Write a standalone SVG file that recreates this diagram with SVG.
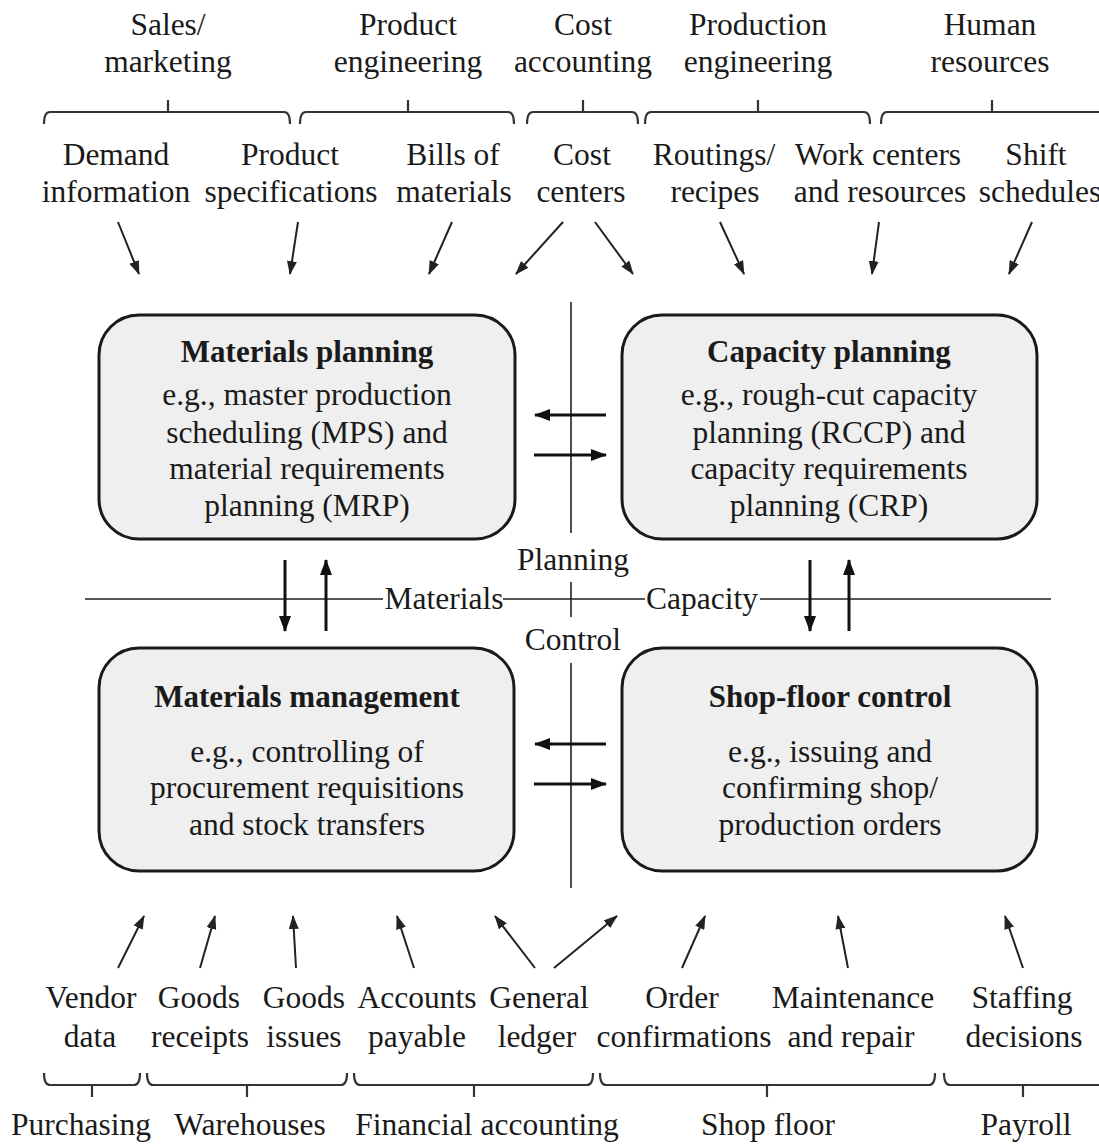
<svg xmlns="http://www.w3.org/2000/svg" width="1099" height="1145" viewBox="0 0 1099 1145">
<style>
text{font-family:"Liberation Serif","Times New Roman",serif;font-size:31.5px;fill:#1a1a1a;text-anchor:middle}
.b{font-weight:bold;font-size:31px}
.box{fill:#efefef;stroke:#1a1a1a;stroke-width:3}
.br{fill:none;stroke:#333;stroke-width:2.2}
.thin{stroke:#222;stroke-width:2;fill:none}
.thick{stroke:#111;stroke-width:3;fill:none}
.ax{stroke:#222;stroke-width:1.6;fill:none}
</style>
<defs>
<marker id="ah" markerUnits="userSpaceOnUse" markerWidth="14" markerHeight="10" refX="13" refY="5" orient="auto"><path d="M0,0 L14,5 L0,10 z" fill="#222"/></marker>
<marker id="ahk" markerUnits="userSpaceOnUse" markerWidth="16" markerHeight="12" refX="15" refY="6" orient="auto"><path d="M0,0 L16,6 L0,12 z" fill="#111"/></marker>
</defs>
<rect width="1099" height="1145" fill="#fff"/>

<g id="top-categories">
<text x="168" y="35">Sales/</text><text x="168" y="72">marketing</text>
<text x="408" y="35">Product</text><text x="408" y="72">engineering</text>
<text x="583" y="35">Cost</text><text x="583" y="72">accounting</text>
<text x="758" y="35">Production</text><text x="758" y="72">engineering</text>
<text x="990" y="35">Human</text><text x="990" y="72">resources</text>
</g>
<g id="top-braces">
<path class="br" d="M44,124 Q44,112 50,112 L284,112 Q290,112 290,124 M168,112 V100"/>
<path class="br" d="M300,124 Q300,112 306,112 L508,112 Q514,112 514,124 M408,112 V100"/>
<path class="br" d="M527,124 Q527,112 533,112 L632,112 Q638,112 638,124 M583,112 V100"/>
<path class="br" d="M645,124 Q645,112 651,112 L864,112 Q870,112 870,124 M758,112 V100"/>
<path class="br" d="M881,124 Q881,112 887,112 L1105,112 M992,112 V100"/>
</g>
<g id="top-items">
<text x="116" y="165">Demand</text><text x="116" y="202">information</text>
<text x="290" y="165">Product</text><text x="291" y="202">specifications</text>
<text x="453" y="165">Bills of</text><text x="454" y="202">materials</text>
<text x="582" y="165">Cost</text><text x="581" y="202">centers</text>
<text x="714" y="165">Routings/</text><text x="715" y="202">recipes</text>
<text x="878" y="165">Work centers</text><text x="880" y="202">and resources</text>
<text x="1036" y="165">Shift</text><text x="1040" y="202">schedules</text>
</g>

<g id="node-materials-planning">
<rect class="box" x="99" y="315" width="416" height="224" rx="40"/>
<text class="b" x="307" y="362">Materials planning</text>
<text x="307" y="405">e.g., master production</text>
<text x="307" y="443">scheduling (MPS) and</text>
<text x="307" y="479">material requirements</text>
<text x="307" y="516">planning (MRP)</text>
</g>
<g id="node-capacity-planning">
<rect class="box" x="622" y="315" width="415" height="224" rx="40"/>
<text class="b" x="829" y="362">Capacity planning</text>
<text x="829" y="405">e.g., rough-cut capacity</text>
<text x="829" y="443">planning (RCCP) and</text>
<text x="829" y="479">capacity requirements</text>
<text x="829" y="516">planning (CRP)</text>
</g>
<g id="node-materials-management">
<rect class="box" x="99" y="648" width="415" height="223" rx="40"/>
<text class="b" x="307" y="707">Materials management</text>
<text x="307" y="762">e.g., controlling of</text>
<text x="307" y="798">procurement requisitions</text>
<text x="307" y="835">and stock transfers</text>
</g>
<g id="node-shop-floor-control">
<rect class="box" x="622" y="648" width="415" height="223" rx="40"/>
<text class="b" x="830" y="707">Shop-floor control</text>
<text x="830" y="762">e.g., issuing and</text>
<text x="830" y="798">confirming shop/</text>
<text x="830" y="835">production orders</text>
</g>

<g id="axes">
<path class="ax" d="M571,302 V533 M571,582 V617 M571,663 V888"/>
<path class="ax" d="M85,599 H383 M503,599 H645 M760,599 H1051"/>
<text x="573" y="570">Planning</text>
<text x="573" y="650">Control</text>
<text x="444" y="609">Materials</text>
<text x="702" y="609">Capacity</text>
</g>

<g id="connectors">
<line class="thin" x1="118" y1="222" x2="139" y2="274" marker-end="url(#ah)"/>
<line class="thin" x1="298" y1="222" x2="290" y2="274" marker-end="url(#ah)"/>
<line class="thin" x1="452" y1="222" x2="429" y2="274" marker-end="url(#ah)"/>
<line class="thin" x1="563" y1="222" x2="516" y2="274" marker-end="url(#ah)"/>
<line class="thin" x1="595" y1="222" x2="633" y2="274" marker-end="url(#ah)"/>
<line class="thin" x1="720" y1="222" x2="744" y2="274" marker-end="url(#ah)"/>
<line class="thin" x1="879" y1="222" x2="872" y2="274" marker-end="url(#ah)"/>
<line class="thin" x1="1032" y1="222" x2="1009" y2="274" marker-end="url(#ah)"/>

<line class="thick" x1="606" y1="415" x2="535" y2="415" marker-end="url(#ahk)"/>
<line class="thick" x1="534" y1="455" x2="606" y2="455" marker-end="url(#ahk)"/>
<line class="thick" x1="606" y1="744" x2="535" y2="744" marker-end="url(#ahk)"/>
<line class="thick" x1="534" y1="784" x2="606" y2="784" marker-end="url(#ahk)"/>
<line class="thick" x1="285" y1="560" x2="285" y2="631" marker-end="url(#ahk)"/>
<line class="thick" x1="326" y1="631" x2="326" y2="560" marker-end="url(#ahk)"/>
<line class="thick" x1="810" y1="560" x2="810" y2="631" marker-end="url(#ahk)"/>
<line class="thick" x1="849" y1="631" x2="849" y2="560" marker-end="url(#ahk)"/>

<line class="thin" x1="118" y1="968" x2="144" y2="916" marker-end="url(#ah)"/>
<line class="thin" x1="200" y1="968" x2="215" y2="916" marker-end="url(#ah)"/>
<line class="thin" x1="296" y1="968" x2="293" y2="916" marker-end="url(#ah)"/>
<line class="thin" x1="414" y1="968" x2="397" y2="916" marker-end="url(#ah)"/>
<line class="thin" x1="535" y1="968" x2="495" y2="916" marker-end="url(#ah)"/>
<line class="thin" x1="554" y1="968" x2="617" y2="916" marker-end="url(#ah)"/>
<line class="thin" x1="682" y1="968" x2="705" y2="916" marker-end="url(#ah)"/>
<line class="thin" x1="848" y1="968" x2="838" y2="916" marker-end="url(#ah)"/>
<line class="thin" x1="1023" y1="968" x2="1005" y2="916" marker-end="url(#ah)"/>
</g>

<g id="bottom-items">
<text x="91" y="1008">Vendor</text><text x="90" y="1047">data</text>
<text x="199" y="1008">Goods</text><text x="200" y="1047">receipts</text>
<text x="304" y="1008">Goods</text><text x="304" y="1047">issues</text>
<text x="417" y="1008">Accounts</text><text x="417" y="1047">payable</text>
<text x="539" y="1008">General</text><text x="537" y="1047">ledger</text>
<text x="682" y="1008">Order</text><text x="684" y="1047">confirmations</text>
<text x="853" y="1008">Maintenance</text><text x="851" y="1047">and repair</text>
<text x="1022" y="1008">Staffing</text><text x="1024" y="1047">decisions</text>
</g>
<g id="bottom-braces">
<path class="br" d="M44,1073 Q44,1085 50,1085 L134,1085 Q140,1085 140,1073 M92,1085 V1097"/>
<path class="br" d="M147,1073 Q147,1085 153,1085 L341,1085 Q347,1085 347,1073 M247,1085 V1097"/>
<path class="br" d="M354,1073 Q354,1085 360,1085 L587,1085 Q593,1085 593,1073 M474,1085 V1097"/>
<path class="br" d="M600,1073 Q600,1085 606,1085 L929,1085 Q935,1085 935,1073 M767,1085 V1097"/>
<path class="br" d="M944,1073 Q944,1085 950,1085 L1105,1085 M1023,1085 V1097"/>
</g>
<g id="bottom-categories">
<text x="81" y="1135">Purchasing</text>
<text x="250" y="1135">Warehouses</text>
<text x="487" y="1135">Financial accounting</text>
<text x="768" y="1135">Shop floor</text>
<text x="1026" y="1135">Payroll</text>
</g>
</svg>
